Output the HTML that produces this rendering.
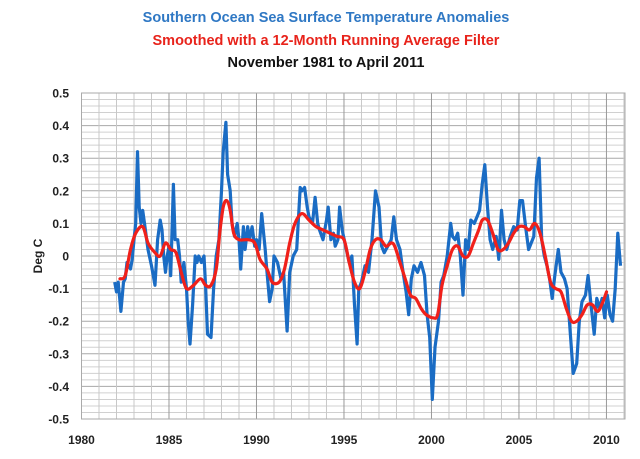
<!DOCTYPE html>
<html><head><meta charset="utf-8"><style>
body{margin:0;background:#fff;}
svg{display:block;font-family:"Liberation Sans",sans-serif;}
</style></head><body>
<svg id="c" width="640" height="459" viewBox="0 0 640 459">
<text x="326" y="22" text-anchor="middle" font-size="14.5" font-weight="bold" fill="#2f78c4">Southern Ocean Sea Surface Temperature Anomalies</text>
<text x="326" y="45" text-anchor="middle" font-size="14.5" font-weight="bold" fill="#e8231b">Smoothed with a 12-Month Running Average Filter</text>
<text x="326" y="67" text-anchor="middle" font-size="14.5" font-weight="bold" fill="#111">November 1981 to April 2011</text>
<text transform="translate(42,256) rotate(-90)" text-anchor="middle" font-size="12" font-weight="bold" fill="#222">Deg C</text>
<g id="grid"></g><g id="ticks"></g><g id="series"></g>
</svg>
<script>
const yearsB=[1981.9,1982.0,1982.1,1982.25,1982.4,1982.5,1982.6,1982.8,1982.9,1983.0,1983.1,1983.2,1983.3,1983.4,1983.5,1983.6,1983.8,1984.0,1984.2,1984.35,1984.5,1984.6,1984.7,1984.8,1984.9,1985.0,1985.1,1985.25,1985.35,1985.5,1985.6,1985.7,1985.85,1986.0,1986.1,1986.2,1986.35,1986.5,1986.6,1986.7,1986.85,1987.0,1987.1,1987.2,1987.4,1987.55,1987.7,1987.85,1988.0,1988.1,1988.25,1988.35,1988.5,1988.6,1988.75,1988.9,1989.0,1989.1,1989.25,1989.35,1989.5,1989.6,1989.75,1989.9,1990.0,1990.15,1990.3,1990.5,1990.6,1990.75,1990.9,1991.0,1991.2,1991.4,1991.55,1991.75,1991.9,1992.1,1992.3,1992.5,1992.6,1992.75,1992.9,1993.0,1993.2,1993.35,1993.5,1993.6,1993.8,1994.0,1994.1,1994.25,1994.4,1994.5,1994.65,1994.75,1994.9,1995.05,1995.3,1995.45,1995.6,1995.75,1995.85,1996.0,1996.2,1996.4,1996.6,1996.8,1997.0,1997.15,1997.3,1997.5,1997.7,1997.85,1998.0,1998.2,1998.35,1998.55,1998.7,1998.85,1999.0,1999.2,1999.4,1999.6,1999.75,1999.9,2000.05,2000.2,2000.4,2000.55,2000.7,2000.9,2001.1,2001.2,2001.35,2001.5,2001.65,2001.8,2001.95,2002.1,2002.25,2002.45,2002.6,2002.75,2002.9,2003.05,2003.2,2003.35,2003.5,2003.7,2003.85,2004.0,2004.15,2004.3,2004.5,2004.7,2004.9,2005.05,2005.2,2005.4,2005.55,2005.7,2005.85,2006.0,2006.15,2006.3,2006.45,2006.6,2006.75,2006.9,2007.05,2007.25,2007.4,2007.6,2007.75,2007.95,2008.1,2008.3,2008.45,2008.6,2008.8,2008.95,2009.1,2009.3,2009.45,2009.6,2009.75,2009.9,2010.05,2010.2,2010.35,2010.5,2010.65,2010.8];
const anomB=[-0.08,-0.11,-0.08,-0.17,-0.08,-0.07,-0.02,-0.04,-0.01,0.05,0.1,0.32,0.15,0.1,0.14,0.1,0.02,-0.03,-0.09,0.05,0.11,0.08,0.0,-0.05,0.0,0.03,-0.06,0.22,0.05,0.05,0.0,-0.08,-0.02,-0.1,-0.2,-0.27,-0.15,0.0,-0.02,0.0,-0.02,0.0,-0.1,-0.24,-0.25,-0.1,0.0,0.05,0.2,0.32,0.41,0.25,0.2,0.1,0.06,0.1,0.05,-0.04,0.09,0.02,0.09,0.05,0.09,0.03,0.05,0.02,0.13,0.02,-0.05,-0.14,-0.1,0.0,-0.02,-0.07,-0.05,-0.23,-0.05,0.0,0.02,0.21,0.2,0.21,0.15,0.12,0.1,0.18,0.1,0.08,0.05,0.11,0.15,0.05,0.07,0.03,0.05,0.15,0.08,0.04,-0.02,0.0,-0.15,-0.27,-0.1,-0.08,-0.03,-0.05,0.05,0.2,0.15,0.03,0.01,0.03,0.05,0.12,0.05,0.02,-0.04,-0.11,-0.18,-0.07,-0.03,-0.05,-0.02,-0.06,-0.18,-0.25,-0.44,-0.28,-0.2,-0.08,-0.06,0.0,0.1,0.06,0.05,0.07,0.0,-0.12,0.05,0.02,0.11,0.1,0.12,0.14,0.22,0.28,0.15,0.05,0.02,0.06,-0.01,0.14,0.05,0.02,0.06,0.09,0.08,0.17,0.17,0.08,0.02,0.04,0.06,0.24,0.3,0.05,0.0,-0.03,-0.07,-0.13,-0.06,0.02,-0.05,-0.07,-0.1,-0.25,-0.36,-0.33,-0.2,-0.14,-0.12,-0.06,-0.14,-0.24,-0.13,-0.16,-0.13,-0.19,-0.12,-0.18,-0.2,-0.1,0.07,-0.03];
const yearsR=[1982.2,1982.5,1982.8,1983.1,1983.5,1983.8,1984.2,1984.5,1984.8,1985.1,1985.4,1985.7,1986.0,1986.4,1986.8,1987.1,1987.4,1987.7,1987.9,1988.1,1988.3,1988.5,1988.7,1989.0,1989.5,1989.9,1990.2,1990.6,1990.9,1991.3,1991.6,1991.9,1992.2,1992.6,1993.0,1993.4,1993.8,1994.2,1994.6,1995.0,1995.3,1995.6,1995.9,1996.2,1996.5,1996.8,1997.1,1997.4,1997.7,1997.9,1998.2,1998.5,1998.8,1999.1,1999.4,1999.7,2000.1,2000.35,2000.6,2000.9,2001.2,2001.5,2001.8,2002.1,2002.4,2002.7,2002.9,2003.2,2003.5,2003.8,2004.1,2004.4,2004.7,2005.0,2005.3,2005.6,2005.9,2006.2,2006.5,2006.8,2007.1,2007.4,2007.7,2008.0,2008.3,2008.6,2008.9,2009.2,2009.5,2009.8,2010.0];
const anomR=[-0.07,-0.06,0.02,0.07,0.09,0.04,0.01,0.0,0.04,0.02,0.01,-0.05,-0.1,-0.09,-0.07,-0.09,-0.09,-0.04,0.07,0.15,0.17,0.14,0.07,0.05,0.05,0.04,-0.01,-0.04,-0.08,-0.08,-0.04,0.04,0.1,0.13,0.11,0.09,0.08,0.07,0.06,0.05,-0.02,-0.08,-0.1,-0.05,0.02,0.05,0.05,0.03,0.04,0.03,-0.02,-0.07,-0.12,-0.13,-0.16,-0.18,-0.19,-0.18,-0.09,-0.03,0.02,0.03,0.0,0.0,0.04,0.08,0.11,0.11,0.07,0.02,0.02,0.04,0.07,0.09,0.09,0.08,0.1,0.07,0.0,-0.08,-0.1,-0.11,-0.16,-0.2,-0.2,-0.18,-0.15,-0.15,-0.17,-0.14,-0.11];
const xTicks=[1980,1985,1990,1995,2000,2005,2010];
const yTicks=[0.5,0.4,0.3,0.2,0.1,0,-0.1,-0.2,-0.3,-0.4,-0.5];
const NS='http://www.w3.org/2000/svg';
const X0=81.5,X1=625,Y0=93,Y1=419,xmin=1980,xmax=2011.06,ymin=-0.5,ymax=0.5;
function sx(v){return X0+(v-xmin)/(xmax-xmin)*(X1-X0);}
function sy(v){return Y1-(v-ymin)/(ymax-ymin)*(Y1-Y0);}
function mk(t,a,p){const e=document.createElementNS(NS,t);for(const k in a)e.setAttribute(k,a[k]);p.appendChild(e);return e;}
function smooth(pts){let d='M'+pts[0][0].toFixed(1)+','+pts[0][1].toFixed(1);
for(let i=0;i<pts.length-1;i++){const p0=pts[i-1]||pts[i],p1=pts[i],p2=pts[i+1],p3=pts[i+2]||p2;
const c1=[p1[0]+(p2[0]-p0[0])/6,p1[1]+(p2[1]-p0[1])/6],c2=[p2[0]-(p3[0]-p1[0])/6,p2[1]-(p3[1]-p1[1])/6];
d+=' C'+c1.map(v=>v.toFixed(1)).join(',')+' '+c2.map(v=>v.toFixed(1)).join(',')+' '+p2[0].toFixed(1)+','+p2[1].toFixed(1);}
return d;}
const grid=document.getElementById('grid'),ticks=document.getElementById('ticks'),series=document.getElementById('series');
for(let i=0;i<=50;i++){const v=ymin+i*0.02;const l=mk('line',{x1:X0,x2:X1,y1:sy(v),y2:sy(v),stroke:(i%5==0)?'#a8a8a8':'#d0d0d0','stroke-width':1},grid);

}
for(let y=1980;y<=2011;y++){const l=mk('line',{x1:sx(y),x2:sx(y),y1:Y0,y2:Y1,stroke:(y%5==0)?'#999':'#c8c8c8','stroke-width':1},grid);

}
const fr=mk('rect',{x:X0,y:Y0,width:X1-X0,height:Y1-Y0,fill:'none',stroke:'#aaa'},grid);


yTicks.forEach(v=>{const t=mk('text',{x:69,y:sy(v)+4.5,'text-anchor':'end','font-size':12,'font-weight':'bold',fill:'#222'},ticks);t.textContent=(v===0?'0':v.toFixed(1));

});
xTicks.forEach(v=>{const t=mk('text',{x:sx(v),y:444,'text-anchor':'middle','font-size':12,'font-weight':'bold',fill:'#222'},ticks);t.textContent=v;

});
const pb=mk('polyline',{points:yearsB.map((y,i)=>sx(y).toFixed(1)+','+sy(anomB[i]).toFixed(1)).join(' '),fill:'none',stroke:'#1a6cc4','stroke-width':3.2,'stroke-linejoin':'round'},series);


const pr=mk('path',{d:smooth(yearsR.map((y,i)=>[sx(y),sy(anomR[i])])),fill:'none',stroke:'#f0201a','stroke-width':3.2,'stroke-linejoin':'round','stroke-linecap':'round'},series);


</script>
</body></html>
